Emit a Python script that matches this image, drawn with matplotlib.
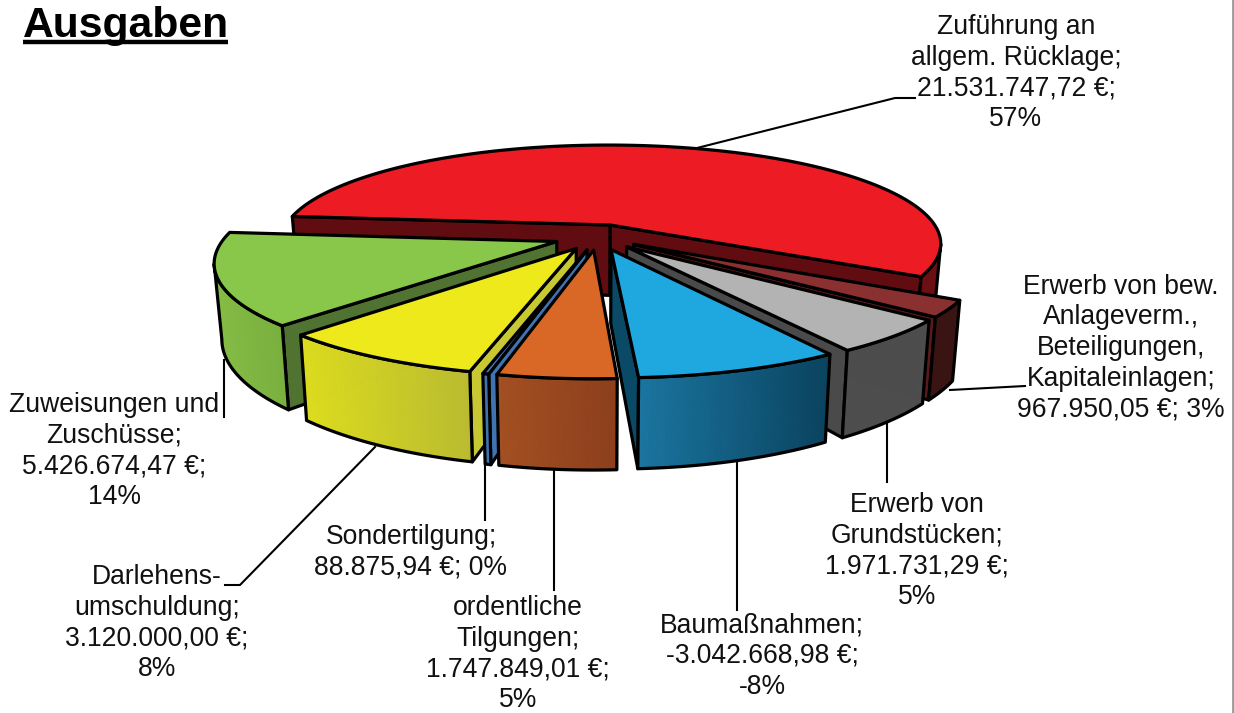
import numpy as np
import matplotlib
matplotlib.use("Agg")
import matplotlib.pyplot as plt
from matplotlib.collections import PolyCollection
from matplotlib.colors import to_rgb

categories = ["Zuführung an allgem. Rücklage", "Erwerb von bew. Anlageverm., Beteiligungen, Kapitaleinlagen",
              "Erwerb von Grundstücken", "Baumaßnahmen", "ordentliche Tilgungen", "Sondertilgung",
              "Darlehensumschuldung", "Zuweisungen und Zuschüsse"]
values = [21531747.72, 967950.05, 1971731.29, -3042668.98, 1747849.01, 88875.94, 3120000.00, 5426674.47]
labels = ["Zuführung an\nallgem. Rücklage;\n21.531.747,72 €;\n57%",
          "Erwerb von bew.\nAnlageverm.,\nBeteiligungen,\nKapitaleinlagen;\n967.950,05 €; 3%",
          "Erwerb von\nGrundstücken;\n1.971.731,29 €;\n5%",
          "Baumaßnahmen;\n-3.042.668,98 €;\n-8%",
          "ordentliche\nTilgungen;\n1.747.849,01 €;\n5%",
          "Sondertilgung;\n88.875,94 €; 0%",
          "Darlehens-\numschuldung;\n3.120.000,00 €;\n8%",
          "Zuweisungen und\nZuschüsse;\n5.426.674,47 €;\n14%"]
label_pos = [(1016, 73), (1121, 348), (917, 551), (762, 656), (518, 654), (411, 552), (157, 623), (114, 451)]
top_colors = ["#ED1C24", "#8A3030", "#B3B3B3", "#1FA7E0", "#D96726", "#4A7FBF", "#EEE91B", "#88C74A"]
radial_colors = ["#610C10", "#5A1A1A", "#4A4A4A", "#0B4A66", "#8C3F1C", "#3F74B0", "#C8C832", "#507332"]
wall_left = ["#6B0F12", "#3A1412", "#4D4D4D", "#1A75A0", "#A34F22", "#3F74B0", "#DCDC1E", "#84BC45"]
wall_right = ["#6B0F12", "#3A1412", "#4D4D4D", "#0A435F", "#8C3F1C", "#3F74B0", "#B9BA30", "#78AE3E"]
leaders = [[(693, 149), (895, 98), (915, 98)], [(950, 390), (1025, 386)], [(887, 423), (887, 482)],
           [(737, 462), (737, 610)], [(554, 470), (554, 590)], [(485, 465), (485, 520)],
           [(375, 447), (240, 585), (225, 585)], [(224, 360), (224, 417)]]

START = 275.3
EXPLODE = 0.13
CX, CY, A, B, H, P, Q = 597.5, 237.0, 332.0, 99.0, 72.0, 0.187, 0.02


def project(x, y, z):
    x, y, z = np.asarray(x, float), np.asarray(y, float), np.asarray(z, float)
    s = 1.0 / (1.0 - P * y)
    return CX + A * x * s * (1 - Q * z), CY + (B * y + H * z) * s


sizes = np.abs(values)
sweeps = sizes / sizes.sum() * 360.0
starts = START + np.concatenate([[0], np.cumsum(sweeps)[:-1]])

fig = plt.figure(figsize=(12.34, 7.13), dpi=100)
ax = fig.add_axes([0, 0, 1, 1])
ax.set_xlim(0, 1234)
ax.set_ylim(713, 0)
ax.axis("off")

LW = 2.3
mids = np.radians(starts + sweeps / 2)
order = np.argsort(-np.cos(mids))
for z_i, i in enumerate(order):
    zo = 2 + z_i
    th = np.radians(np.linspace(starts[i], starts[i] + sweeps[i], max(8, int(sweeps[i] * 3))))
    ex, ey = EXPLODE * np.sin(mids[i]), -EXPLODE * np.cos(mids[i])
    ox, oy = ex + np.sin(th), ey - np.cos(th)
    zero = np.zeros_like(ox)
    tx, ty = project(ox, oy, zero)
    bx, by = project(ox, oy, zero + 1)
    ax0, ay0 = project(ex, ey, 0)
    ax1, ay1 = project(ex, ey, 1)
    cxm, cym = tx[len(tx) // 2], ty[len(ty) // 2]
    # radial cut faces: only those turned towards the viewer
    for k in (0, -1):
        dxk = tx[k] - ax0
        line_y = ay0 + (ty[k] - ay0) * (cxm - ax0) / dxk if abs(dxk) > 1e-6 else None
        if line_y is None or line_y > cym:
            ax.fill([ax0, tx[k], bx[k], ax1], [ay0, ty[k], by[k], ay1], facecolor=radial_colors[i],
                    edgecolor="black", lw=LW, joinstyle="round", zorder=zo)
    # outer wall, visible part only, with gradient
    vis = np.gradient(tx) < 0
    if vis.sum() >= 2:
        vtx, vty, vbx, vby = tx[vis], ty[vis], bx[vis], by[vis]
        c0, c1 = np.array(to_rgb(wall_right[i])), np.array(to_rgb(wall_left[i]))
        polys, cols = [], []
        xmin, xmax = min(vtx.min(), vbx.min()), max(vtx.max(), vbx.max())
        for k in range(len(vtx) - 1):
            polys.append([(vtx[k], vty[k]), (vtx[k + 1], vty[k + 1]), (vbx[k + 1], vby[k + 1]), (vbx[k], vby[k])])
            t = (xmax - (vtx[k] + vtx[k + 1]) / 2) / (xmax - xmin)
            cols.append(c0 + (c1 - c0) * t)
        ax.add_collection(PolyCollection(polys, facecolors=cols, edgecolors=cols, linewidths=0.8, zorder=zo))
        ax.fill(np.r_[vtx, vbx[::-1]], np.r_[vty, vby[::-1]], facecolor="none", edgecolor="black", lw=LW,
                joinstyle="round", zorder=zo)
    # top face
    ax.fill(np.r_[ax0, tx], np.r_[ay0, ty], facecolor=top_colors[i], edgecolor="black", lw=LW,
            joinstyle="round", zorder=zo)

for pts in leaders:
    xs, ys = zip(*pts)
    ax.plot(xs, ys, color="black", lw=1.5, zorder=1)

font = "Liberation Sans"
for lab, (x, y) in zip(labels, label_pos):
    ax.text(x, y, lab, ha="center", va="center", family=font, fontsize=19.1, color="#111111",
            linespacing=1.23, zorder=30)

ax.text(23, 37, "Ausgaben", family=font, fontsize=30.7, fontweight="bold", color="black", ha="left",
        va="baseline", zorder=30)
ax.plot([23, 228], [42.3, 42.3], color="black", lw=3.2, solid_capstyle="butt", zorder=30)
ax.plot([1232.5, 1232.5], [0, 713], color="#999999", lw=2, zorder=1)

fig.savefig("out.png", dpi=100)
